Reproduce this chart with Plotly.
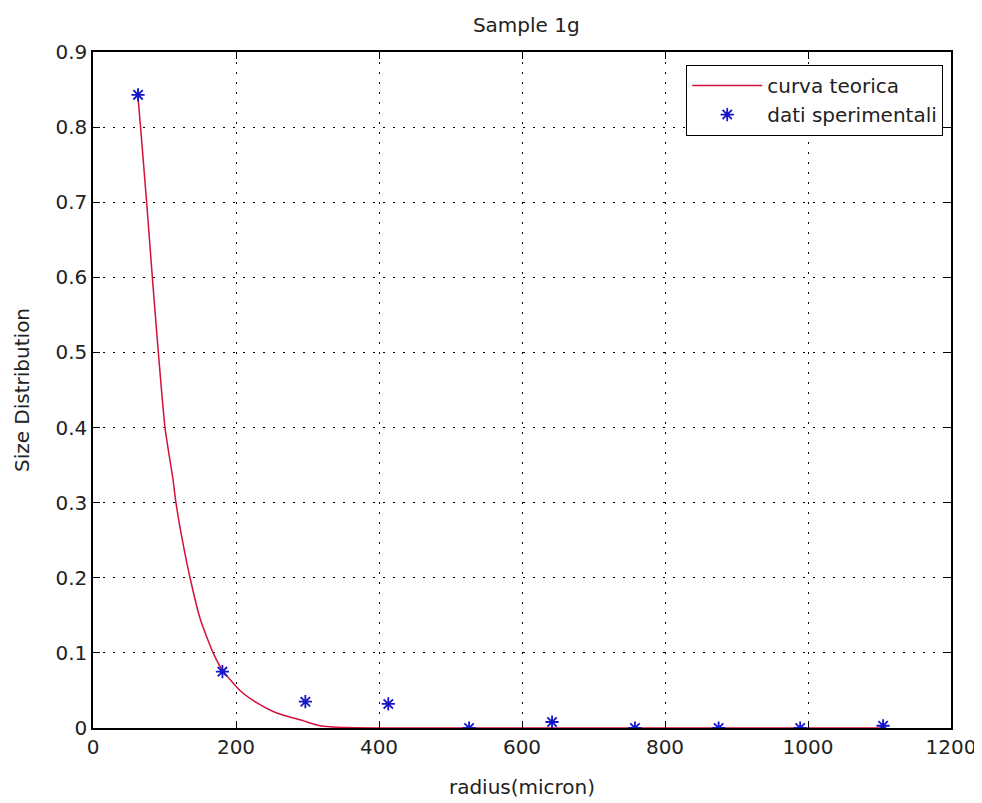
import plotly.graph_objects as go

radius_exp = [63, 181, 297, 413, 526, 642, 758, 875, 989, 1105]
size_exp = [0.843, 0.075, 0.035, 0.032, 0.0, 0.008, 0.0, 0.0, 0.0, 0.003]

# Theoretical curve samples
radius_th = [63, 66.5, 75, 83, 91.4, 100.7, 112, 116, 125, 135.7, 150, 168, 181, 205.6,
             230, 252, 270, 289.5, 317.5, 355, 400, 500, 600, 700, 800, 900, 1000, 1105]
size_th = [0.84, 0.8, 0.7, 0.6, 0.5, 0.4, 0.33, 0.3, 0.25, 0.2, 0.145, 0.1, 0.077, 0.05,
           0.033, 0.022, 0.016, 0.011, 0.003, 0.0005, 0.0, 0.0, 0.0, 0.0, 0.0, 0.0, 0.0, 0.0]

x_ticks = [0, 200, 400, 600, 800, 1000, 1200]
y_ticks = [0, 0.1, 0.2, 0.3, 0.4, 0.5, 0.6, 0.7, 0.8, 0.9]
y_tick_labels = ["0", "0.1", "0.2", "0.3", "0.4", "0.5", "0.6", "0.7", "0.8", "0.9"]

font_family = "DejaVu Sans, Arial, sans-serif"
txt = "#222"

fig = go.Figure()
fig.add_trace(go.Scatter(
    x=radius_th, y=size_th, mode="lines", name="curva teorica",
    line=dict(color="#d4103c", width=1.5, shape="spline", smoothing=0.6),
))
fig.add_trace(go.Scatter(
    x=radius_exp, y=size_exp, mode="markers", name="dati sperimentali",
    marker=dict(symbol="asterisk-open", size=11, color="#1414c8",
                line=dict(color="#1414c8", width=1.8)),
))

axis_common = dict(
    showline=True, linecolor="black", linewidth=1.5, mirror="ticks",
    ticks="inside", ticklen=7, tickcolor="black",
    showgrid=True, gridcolor="black", griddash="2px,8px", gridwidth=1.2,
    zeroline=False,
    tickfont=dict(family=font_family, size=20, color=txt),
)

fig.update_layout(
    width=982, height=803,
    margin=dict(l=85, r=39, t=44, b=83),
    paper_bgcolor="white", plot_bgcolor="white",
    title=dict(text="Sample 1g", x=0.505, xanchor="center", y=0.979, yanchor="middle",
               xref="paper",
               font=dict(family=font_family, size=20, color=txt)),
    xaxis=dict(range=[0, 1200], tickvals=x_ticks, **axis_common,
               title=dict(text="radius(micron)", standoff=22,
                          font=dict(family=font_family, size=20, color=txt))),
    yaxis=dict(range=[0, 0.9], tickvals=y_ticks, ticktext=y_tick_labels, **axis_common,
               title=dict(text="Size Distribution", standoff=20,
                          font=dict(family=font_family, size=20, color=txt))),
    legend=dict(x=0.9907, y=0.981, xanchor="right", yanchor="top",
                bgcolor="white", bordercolor="black", borderwidth=1.2,
                itemwidth=70, tracegroupgap=2,
                font=dict(family=font_family, size=20, color=txt)),
    showlegend=True,
)

fig.write_html("out.html")
